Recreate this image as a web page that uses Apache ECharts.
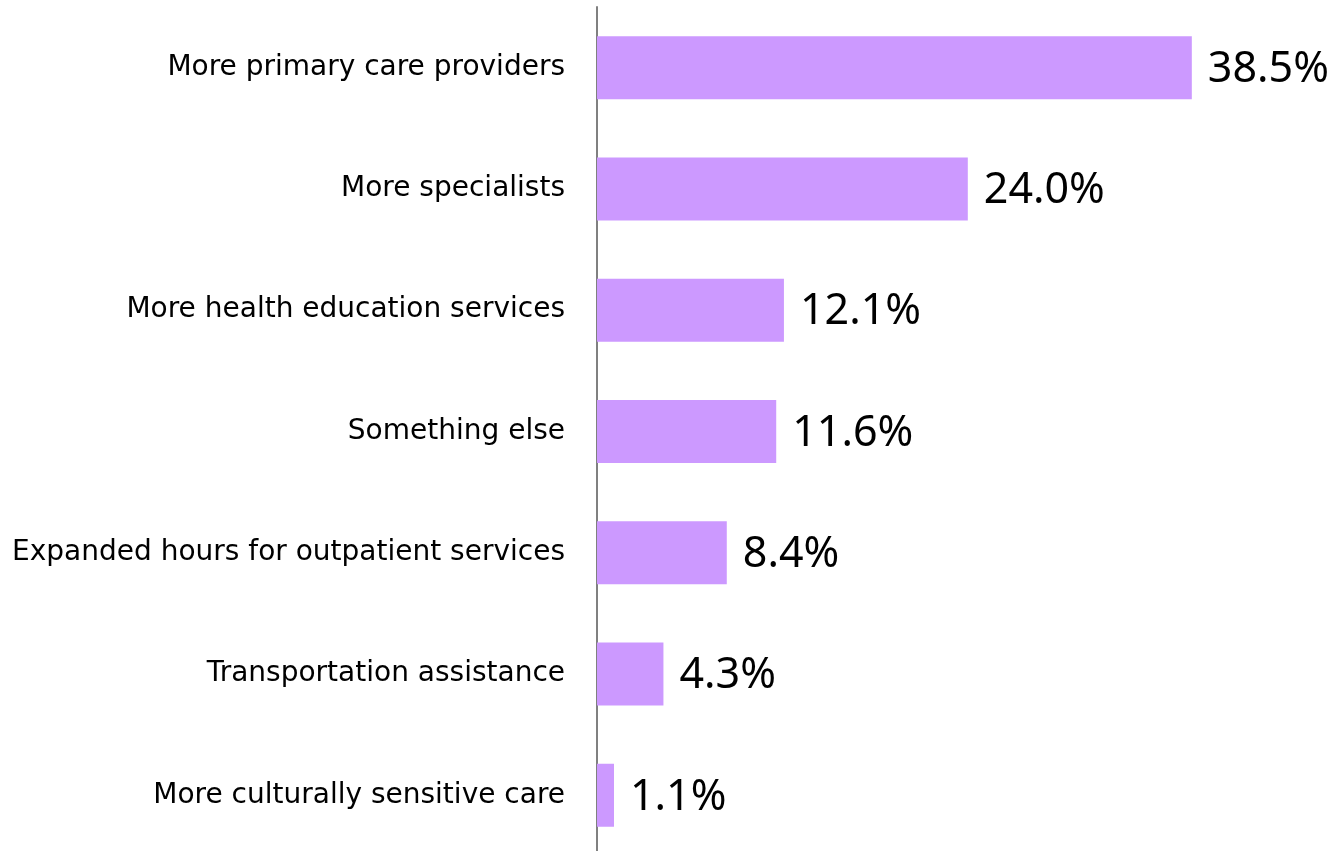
<!DOCTYPE html>
<html><head><meta charset="utf-8">
<script src="https://cdn.jsdelivr.net/npm/echarts@6/dist/echarts.min.js"></script>
<style>html,body{margin:0;padding:0;background:#fff}#c{width:1334px;height:851px}</style>
</head><body><div id="c"></div>
<script>
const categories = ["More primary care providers","More specialists","More health education services","Something else","Expanded hours for outpatient services","Transportation assistance","More culturally sensitive care"];
const values = [38.5, 24.0, 12.1, 11.6, 8.4, 4.3, 1.1];

const chart = echarts.init(document.getElementById('c'), null, {renderer:'canvas'});
chart.setOption({
  animation:false,
  grid:{left:597, top:7, width:618, height:849, containLabel:false, outerBoundsMode:'none'},
  xAxis:{type:'value', min:0, max:40, show:false},
  yAxis:{type:'category', inverse:true, data:categories,
    axisLine:{show:true, lineStyle:{color:'#808080', width:2}},
    axisTick:{show:false},
    axisLabel:{margin:32, fontFamily:'DejaVu Sans', fontSize:28, color:'#000'}
  },
  series:[{type:'bar', data:values, barWidth:63,
    itemStyle:{color:'#CC99FF'},
    label:{show:true, position:'right', distance:16, fontFamily:'Noto Sans', fontSize:43, color:'#000',
      offset:[0,2],
      formatter:p=>p.value.toFixed(1)+'%'}
  }]
});
</script></body></html>
